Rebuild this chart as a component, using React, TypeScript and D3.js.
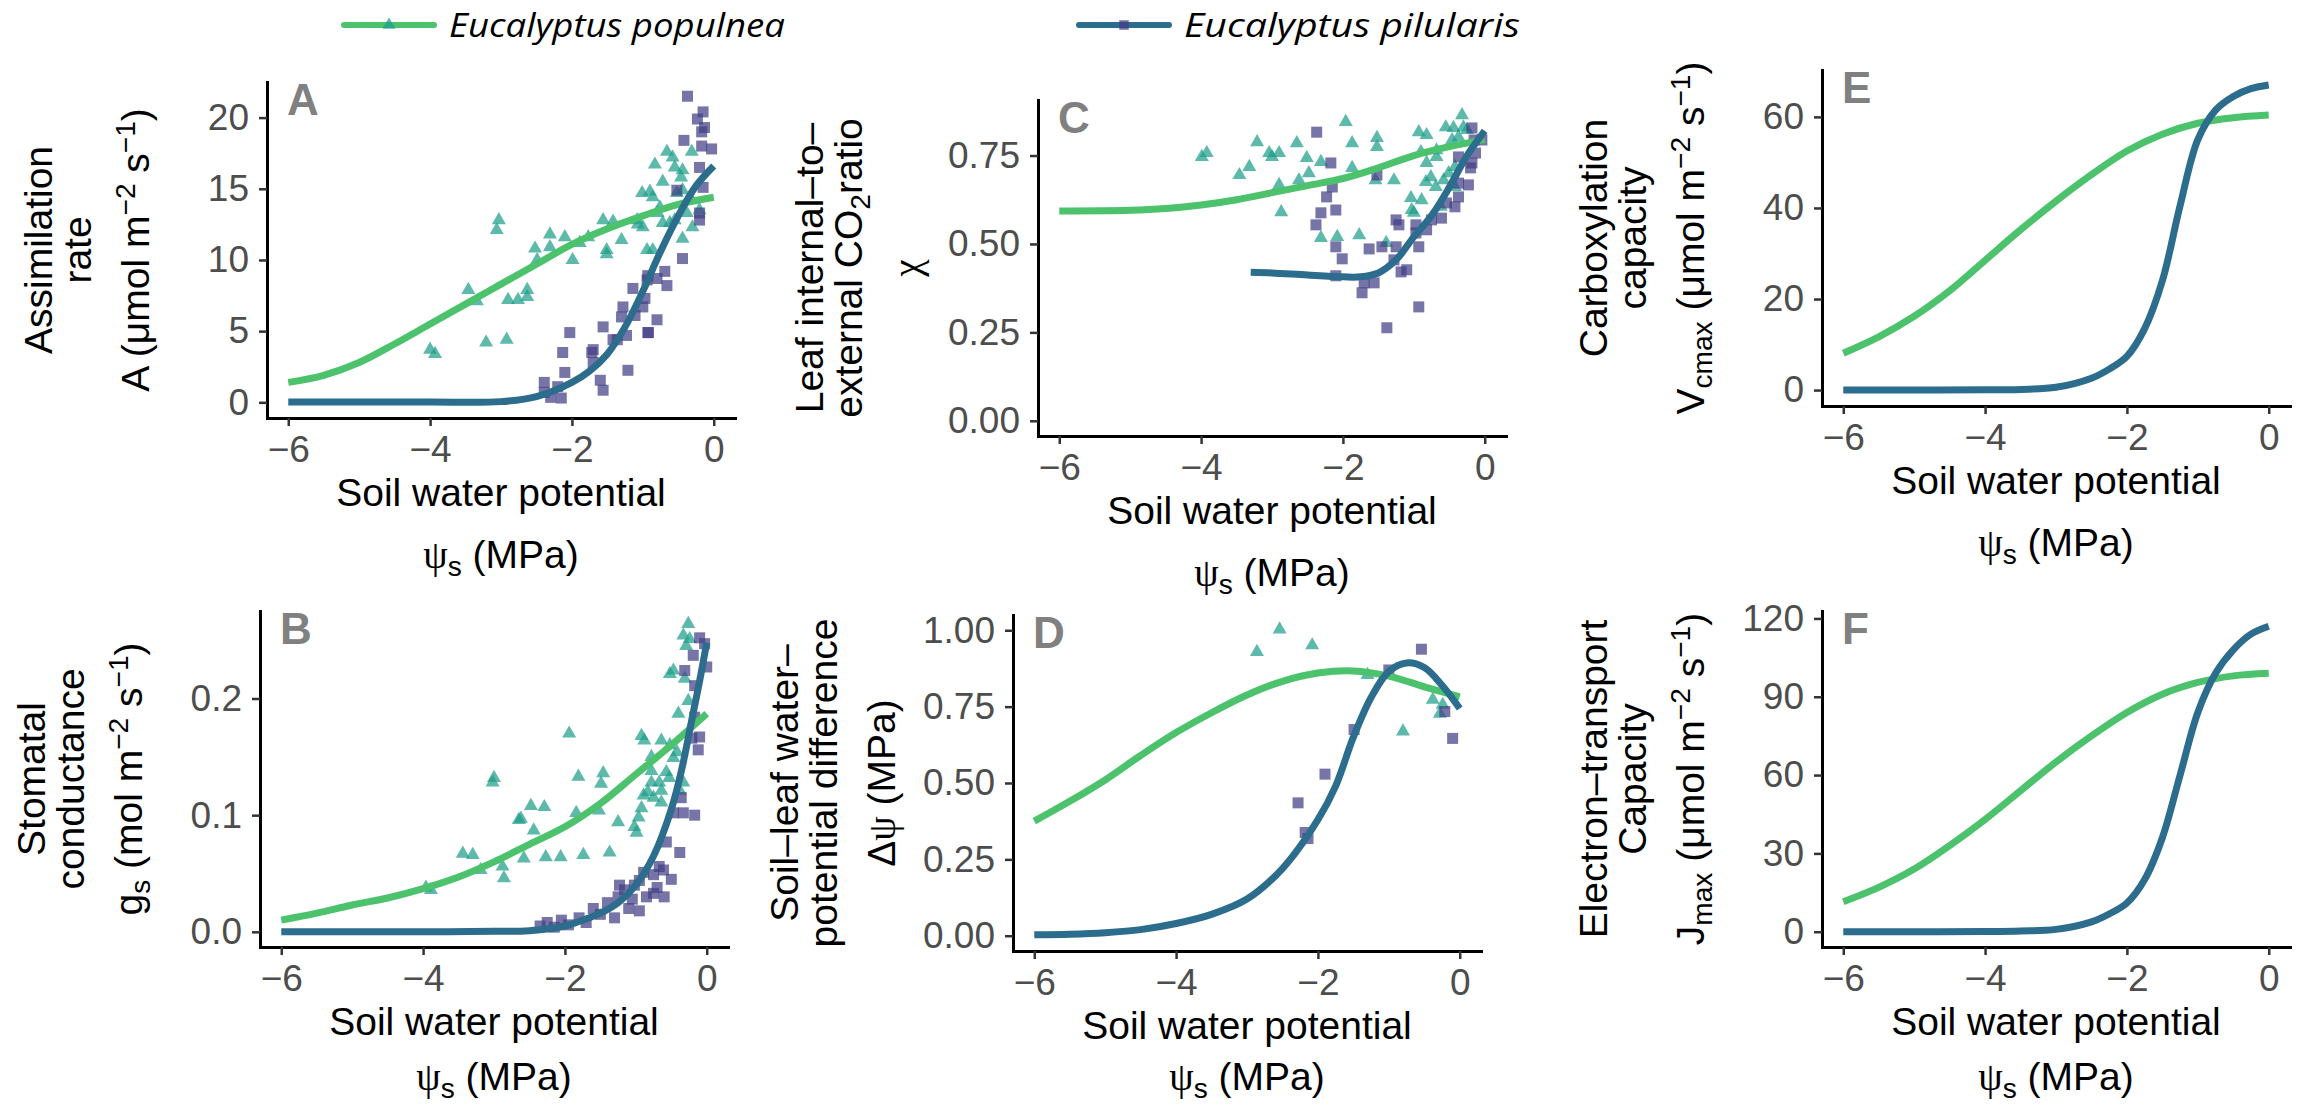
import { useEffect, useRef } from 'react';
import * as d3 from 'd3';

type Pt = [number, number];

const W = 2303;
const H = 1108;

const species = ['Eucalyptus populnea', 'Eucalyptus pilularis'];
const xTicks = [-6, -4, -2, 0];

const aTicks = [0, 5, 10, 15, 20];
const bTicks = [0, 0.1, 0.2];
const cTicks = [0, 0.25, 0.5, 0.75];
const dTicks = [0, 0.25, 0.5, 0.75, 1];
const eTicks = [0, 20, 40, 60];
const fTicks = [0, 30, 60, 90, 120];

// A: assimilation rate
const aPopFit: Pt[] = [[-6, 1.4], [-5.5, 1.9], [-5, 2.8], [-4.5, 4.1], [-4, 5.5], [-3.5, 6.9], [-3, 8.3], [-2.5, 9.7], [-2, 11.1], [-1.5, 12.2], [-1, 13.1], [-0.5, 13.9], [0, 14.4]];
const aPilFit: Pt[] = [[-6, 0.02], [-5, 0.02], [-4, 0.02], [-3, 0.05], [-2.5, 0.4], [-2, 1.4], [-1.75, 2.2], [-1.5, 3.4], [-1.25, 5.3], [-1, 7.8], [-0.75, 10.6], [-0.5, 13.1], [-0.25, 15.2], [0, 16.6]];
const aPopObs: Pt[] = [
  [-3.03, 12.8], [-3.06, 12.1], [-3.46, 7.9], [-3.34, 7.1], [-2.9, 7.2], [-2.76, 7.2], [-3.21, 4.2], [-2.92, 4.4], [-4.0, 3.7], [-3.93, 3.4],
  [-2.63, 7.9], [-2.63, 7.4], [-2.49, 10.0], [-2.52, 10.8], [-2.31, 11.8], [-2.31, 10.9], [-2.1, 11.6], [-1.99, 10.0], [-1.89, 11.2], [-1.77, 11.6],
  [-1.56, 12.8], [-1.42, 12.7], [-1.51, 10.7], [-1.51, 10.4], [-1.3, 11.4], [-1.08, 12.8], [-1.07, 12.5], [-1.0, 12.3], [-0.94, 10.7], [-1.01, 14.7],
  [-0.9, 14.8], [-0.83, 16.7], [-0.72, 15.5], [-0.66, 17.6], [-0.58, 17.2], [-0.55, 16.5], [-0.44, 16.3], [-0.46, 15.8], [-0.31, 17.6], [-0.86, 14.4],
  [-0.76, 13.7], [-0.62, 12.6], [-0.52, 14.7], [-0.44, 14.9], [-0.38, 13.3], [-0.31, 14.2], [-0.3, 12.3], [-0.44, 11.5], [-0.72, 12.6], [-0.79, 13.3],
  [-0.86, 10.7], [-0.55, 12.8], [-0.2, 13.5],
];
const aPilObs: Pt[] = [
  [-0.37, 21.5], [-0.15, 20.4], [-0.23, 19.9], [-0.13, 19.3], [-0.17, 19.0], [-0.42, 18.4], [-0.17, 18.0], [-0.03, 17.8], [-0.2, 16.5], [-0.52, 14.9],
  [-0.15, 15.1], [-0.2, 13.3], [-0.2, 12.8], [-0.44, 10.1], [-0.93, 8.9], [-0.94, 8.6], [-0.69, 9.2], [-0.8, 8.7], [-0.66, 8.2], [-1.14, 8.0],
  [-0.97, 7.3], [-1.0, 6.7], [-1.28, 6.7], [-1.3, 6.0], [-1.11, 6.1], [-0.8, 5.8], [-0.93, 4.9], [-1.23, 4.7], [-1.42, 4.4], [-2.03, 4.9],
  [-1.56, 5.3], [-2.13, 3.5], [-1.72, 3.5], [-1.7, 3.7], [-1.7, 2.8], [-2.1, 2.1], [-2.39, 1.4], [-2.2, 1.1], [-2.39, 0.7], [-2.15, 0.3],
  [-1.6, 1.55], [-1.56, 0.85], [-1.21, 2.25], [-1.36, 4.4], [-0.92, 4.9], [-2.3, 0.35],
];

// B: stomatal conductance
const bPopFit: Pt[] = [[-6, 0.01], [-5.5, 0.016], [-5, 0.023], [-4.5, 0.029], [-4, 0.037], [-3.5, 0.047], [-3, 0.06], [-2.5, 0.075], [-2, 0.09], [-1.5, 0.11], [-1, 0.135], [-0.5, 0.16], [0, 0.187]];
const bPilFit: Pt[] = [[-6, 0], [-5, 0], [-4, 0], [-3, 0.0005], [-2.5, 0.001], [-2, 0.005], [-1.75, 0.01], [-1.5, 0.016], [-1.25, 0.025], [-1, 0.04], [-0.75, 0.065], [-0.5, 0.105], [-0.35, 0.14], [-0.2, 0.185], [-0.1, 0.215], [0, 0.248]];
const bPopObs: Pt[] = [
  [-3.0, 0.132], [-3.02, 0.128], [-3.44, 0.067], [-3.3, 0.066], [-3.19, 0.053], [-2.88, 0.056], [-2.86, 0.046], [-2.65, 0.096], [-3.96, 0.038], [-3.89, 0.036],
  [-0.26, 0.264], [-0.33, 0.254], [-0.24, 0.251], [-0.29, 0.245], [-0.47, 0.224], [-0.52, 0.221], [-0.31, 0.217], [-0.26, 0.198], [-0.4, 0.187], [-1.94, 0.17],
  [-0.92, 0.168], [-0.88, 0.164], [-0.64, 0.164], [-0.52, 0.16], [-0.42, 0.154], [-0.78, 0.15], [-0.47, 0.149], [-0.78, 0.138], [-0.57, 0.137], [-1.81, 0.133],
  [-1.46, 0.136], [-1.49, 0.127], [-0.78, 0.128], [-0.67, 0.128], [-0.53, 0.132], [-0.33, 0.128], [-0.83, 0.12], [-0.64, 0.121], [-0.38, 0.121], [-0.89, 0.117],
  [-0.75, 0.115], [-0.64, 0.111], [-0.92, 0.106], [-2.48, 0.108], [-2.29, 0.107], [-1.84, 0.102], [-1.52, 0.104], [-0.96, 0.098], [-2.62, 0.097], [-1.25, 0.094],
  [-2.44, 0.087], [-1.02, 0.09], [-0.99, 0.085], [-2.58, 0.063], [-2.27, 0.064], [-2.06, 0.064], [-1.74, 0.066], [-1.37, 0.068],
];
const bPilObs: Pt[] = [
  [-0.1, 0.252], [-0.03, 0.247], [-0.19, 0.237], [0.0, 0.227], [-0.31, 0.224], [-0.17, 0.211], [-0.17, 0.184], [-0.1, 0.167], [-0.21, 0.166], [-0.12, 0.156],
  [-0.36, 0.115], [-0.33, 0.102], [-0.17, 0.1], [-0.47, 0.102], [-0.57, 0.077], [-0.38, 0.068], [-0.67, 0.056], [-0.61, 0.053], [-0.89, 0.051], [-0.95, 0.044],
  [-0.75, 0.049], [-1.02, 0.04], [-1.23, 0.04], [-1.16, 0.036], [-0.75, 0.033],
  [-2.35, 0.005], [-2.25, 0.008], [-2.15, 0.004], [-2.05, 0.01], [-1.95, 0.006], [-1.8, 0.012], [-1.7, 0.008], [-1.6, 0.02], [-1.5, 0.015], [-1.4, 0.025],
  [-1.3, 0.012], [-1.25, 0.03], [-1.1, 0.02], [-1.05, 0.028], [-0.95, 0.018], [-0.85, 0.03], [-0.7, 0.038], [-0.6, 0.03], [-0.5, 0.045],
];

// C: leaf internal-to-external CO2 ratio
const cPopFit: Pt[] = [[-6, 0.593], [-5, 0.595], [-4.5, 0.6], [-4, 0.61], [-3.5, 0.625], [-3, 0.645], [-2.5, 0.665], [-2, 0.685], [-1.5, 0.715], [-1, 0.75], [-0.5, 0.775], [0, 0.795]];
const cPilFit: Pt[] = [[-3.3, 0.42], [-3, 0.418], [-2.5, 0.412], [-2, 0.407], [-1.75, 0.407], [-1.5, 0.418], [-1.25, 0.455], [-1, 0.52], [-0.75, 0.58], [-0.5, 0.66], [-0.25, 0.75], [0, 0.82]];
const cPopObs: Pt[] = [
  [-3.99, 0.746], [-3.92, 0.757], [-3.46, 0.695], [-3.32, 0.718], [-3.21, 0.788], [-3.04, 0.757], [-3.0, 0.746], [-2.9, 0.757], [-2.9, 0.667], [-2.87, 0.59],
  [-2.65, 0.785], [-2.62, 0.68], [-2.51, 0.743], [-2.48, 0.70], [-2.31, 0.732], [-2.31, 0.517], [-2.08, 0.52], [-1.96, 0.845], [-1.87, 0.785], [-1.87, 0.715],
  [-1.77, 0.525], [-1.54, 0.68], [-1.52, 0.80], [-1.52, 0.774], [-1.39, 0.503], [-1.28, 0.68], [-1.04, 0.63], [-1.03, 0.596], [-1.0, 0.588], [-0.93, 0.816],
  [-0.9, 0.76], [-0.82, 0.808], [-0.89, 0.624], [-0.83, 0.675], [-0.82, 0.729], [-0.76, 0.689], [-0.69, 0.661], [-0.68, 0.746], [-0.68, 0.765], [-0.62, 0.605],
  [-0.58, 0.68], [-0.55, 0.83], [-0.51, 0.70], [-0.44, 0.828], [-0.42, 0.661], [-0.37, 0.802], [-0.32, 0.864], [-0.3, 0.83], [-0.25, 0.822], [-0.46, 0.794],
  [-0.42, 0.718],
];
const cPilObs: Pt[] = [
  [-2.37, 0.816], [-2.17, 0.729], [-2.15, 0.661], [-2.23, 0.633], [-2.31, 0.588], [-2.1, 0.596], [-2.38, 0.554], [-2.1, 0.492], [-2.01, 0.458], [-2.1, 0.41],
  [-1.7, 0.39], [-1.73, 0.362], [-1.56, 0.39], [-1.63, 0.486], [-1.52, 0.695], [-1.45, 0.492], [-1.25, 0.568], [-1.21, 0.554], [-1.25, 0.492], [-1.28, 0.455],
  [-1.18, 0.421], [-1.1, 0.427], [-1.38, 0.263], [-0.93, 0.322], [-0.97, 0.554], [-0.97, 0.531], [-0.93, 0.492], [-0.82, 0.54], [-0.75, 0.568], [-0.61, 0.573],
  [-0.54, 0.616], [-0.42, 0.605], [-0.37, 0.633], [-0.37, 0.672], [-0.23, 0.667], [-0.2, 0.715], [-0.18, 0.729], [-0.13, 0.757], [-0.37, 0.746], [-0.18, 0.828],
  [-0.04, 0.794], [-0.15, 0.794],
];

// D: soil-leaf water potential difference
const dPopFit: Pt[] = [[-6, 0.375], [-5.5, 0.44], [-5, 0.51], [-4.5, 0.59], [-4, 0.665], [-3.5, 0.73], [-3, 0.788], [-2.5, 0.833], [-2, 0.86], [-1.5, 0.867], [-1, 0.85], [-0.5, 0.815], [0, 0.782]];
const dPilFit: Pt[] = [[-6, 0.003], [-5.5, 0.005], [-5, 0.01], [-4.5, 0.02], [-4, 0.04], [-3.5, 0.07], [-3, 0.12], [-2.5, 0.22], [-2, 0.38], [-1.75, 0.49], [-1.5, 0.65], [-1.25, 0.78], [-1, 0.865], [-0.75, 0.893], [-0.5, 0.878], [-0.25, 0.82], [0, 0.744]];
const dPopObs: Pt[] = [[-2.86, 0.929], [-2.54, 1.003], [-2.08, 0.951], [-1.3, 0.854], [-0.38, 0.773], [-0.24, 0.756], [-0.28, 0.727], [-0.8, 0.669]];
const dPilObs: Pt[] = [[-0.54, 0.938], [-1.0, 0.87], [-0.21, 0.734], [-0.1, 0.646], [-1.49, 0.675], [-1.9, 0.529], [-2.28, 0.435], [-2.18, 0.338], [-2.14, 0.318]];

// E: carboxylation capacity
const ePopFit: Pt[] = [[-6, 8.1], [-5.5, 11.7], [-5, 16.2], [-4.5, 21.8], [-4, 28.5], [-3.5, 35.2], [-3, 41.5], [-2.5, 47.3], [-2, 52.5], [-1.5, 56.2], [-1, 58.6], [-0.5, 59.8], [0, 60.4]];
const ePilFit: Pt[] = [[-6, 0], [-5, 0], [-4, 0.05], [-3.5, 0.15], [-3, 0.6], [-2.5, 2.6], [-2.25, 4.6], [-2, 7.4], [-1.75, 13.5], [-1.5, 24], [-1.25, 40.5], [-1, 55], [-0.75, 61.5], [-0.5, 64.5], [-0.25, 66.2], [0, 67.0]];

// F: electron-transport capacity
const fPopFit: Pt[] = [[-6, 11.5], [-5.5, 17], [-5, 24], [-4.5, 33], [-4, 43], [-3.5, 54], [-3, 65], [-2.5, 75], [-2, 84], [-1.5, 91], [-1, 95.5], [-0.5, 98], [0, 99]];
const fPilFit: Pt[] = [[-6, 0], [-5, 0], [-4, 0.1], [-3.5, 0.3], [-3, 0.9], [-2.5, 3.8], [-2.25, 6.8], [-2, 11], [-1.75, 20], [-1.5, 36], [-1.25, 60], [-1, 84], [-0.75, 99], [-0.5, 108], [-0.25, 114], [0, 117]];

type Seg = { t: string; sup?: boolean; sub?: boolean; serif?: boolean };

const SANS = '"Liberation Sans", Arial, Helvetica, sans-serif';
const SERIF = '"Liberation Serif", "DejaVu Serif", serif';
const GREEN = '#4CC26C';
const BLUE = '#2C6D8D';
const TRI = '#1F9E89';
const SQ = '#433E85';

const unitsMicro: Seg[] = [{ t: ' (μmol m' }, { t: '−2', sup: true }, { t: ' s' }, { t: '−1', sup: true }, { t: ')' }];

const panels = [
  {
    tag: 'A', left: 267, bottom: 418, yDomain: [-1.1, 22.5], ticks: aTicks, fmt: 'd',
    fits: [aPopFit, aPilFit], obs: [aPopObs, aPilObs],
    title: [[{ t: 'Assimilation' }], [{ t: 'rate' }], [{ t: 'A' }, ...unitsMicro]] as Seg[][],
  },
  {
    tag: 'B', left: 260, bottom: 947, yDomain: [-0.013, 0.275], ticks: bTicks, fmt: '.1f',
    fits: [bPopFit, bPilFit], obs: [bPopObs, bPilObs],
    title: [[{ t: 'Stomatal' }], [{ t: 'conductance' }], [{ t: 'g' }, { t: 's', sub: true }, { t: ' (mol m' }, { t: '−2', sup: true }, { t: ' s' }, { t: '−1', sup: true }, { t: ')' }]] as Seg[][],
  },
  {
    tag: 'C', left: 1038, bottom: 436, yDomain: [-0.043, 0.907], ticks: cTicks, fmt: '.2f',
    fits: [cPopFit, cPilFit], obs: [cPopObs, cPilObs],
    title: [[{ t: 'Leaf internal–to–' }], [{ t: 'external CO' }, { t: '2', sub: true }, { t: 'ratio' }], [{ t: 'χ', serif: true }]] as Seg[][],
  },
  {
    tag: 'D', left: 1013, bottom: 951, yDomain: [-0.05, 1.05], ticks: dTicks, fmt: '.2f',
    fits: [dPopFit, dPilFit], obs: [dPopObs, dPilObs],
    title: [[{ t: 'Soil–leaf water–' }], [{ t: 'potential difference' }], [{ t: 'Δ' }, { t: 'ψ', serif: true }, { t: ' (MPa)' }]] as Seg[][],
  },
  {
    tag: 'E', left: 1822, bottom: 406, yDomain: [-3.5, 70.3], ticks: eTicks, fmt: 'd',
    fits: [ePopFit, ePilFit], obs: [[], []] as Pt[][],
    title: [[{ t: 'Carboxylation' }], [{ t: 'capacity' }], [{ t: 'V' }, { t: 'cmax', sub: true }, ...unitsMicro]] as Seg[][],
  },
  {
    tag: 'F', left: 1822, bottom: 947, yDomain: [-5.85, 122.85], ticks: fTicks, fmt: 'd',
    fits: [fPopFit, fPilFit], obs: [[], []] as Pt[][],
    title: [[{ t: 'Electron–transport' }], [{ t: 'Capacity' }], [{ t: 'J' }, { t: 'max', sub: true }, ...unitsMicro]] as Seg[][],
  },
];

const PW = 468;
const PH = 336;

function writeSegs(text: d3.Selection<SVGTextElement, unknown, null, undefined>, segs: Seg[], size: number) {
  let shift = 0;
  segs.forEach((s) => {
    const target = s.sup ? -14 : s.sub ? 8 : 0;
    text.append('tspan')
      .attr('dy', target - shift)
      .attr('font-size', s.sup || s.sub ? size * 0.72 : size)
      .attr('font-family', s.serif ? SERIF : SANS)
      .text(s.t);
    shift = target;
  });
}

export default function App() {
  const ref = useRef<SVGSVGElement>(null);

  useEffect(() => {
    const svg = d3.select(ref.current);
    svg.selectAll('*').remove();

    svg.append('rect').attr('width', W).attr('height', H).attr('fill', '#fff');

    // Legend
    const legend = svg.append('g');
    const legX = [344, 1079];
    species.forEach((name, i) => {
      const g = legend.append('g').attr('transform', `translate(${legX[i]},25)`);
      g.append('line').attr('x1', 0).attr('x2', 90).attr('stroke', i === 0 ? GREEN : BLUE)
        .attr('stroke-width', 6).attr('stroke-linecap', 'round');
      g.append('path')
        .attr('d', d3.symbol(i === 0 ? d3.symbolTriangle : d3.symbolSquare, i === 0 ? 75 : 90)())
        .attr('transform', 'translate(45,0)')
        .attr('fill', i === 0 ? TRI : SQ).attr('fill-opacity', 0.75);
      g.append('text').attr('x', 105).attr('y', 12)
        .attr('font-family', '"Open Sans", "Noto Sans", sans-serif').attr('font-style', 'italic')
        .attr('font-size', 33).attr('textLength', 336).attr('lengthAdjust', 'spacingAndGlyphs')
        .attr('fill', '#000').text(name);
    });

    panels.forEach((p) => {
      const x = d3.scaleLinear().domain([-6.3, 0.3]).range([p.left, p.left + PW]);
      const y = d3.scaleLinear().domain(p.yDomain).range([p.bottom, p.bottom - PH]);
      const g = svg.append('g');

      // Points
      p.obs.forEach((pts, si) => {
        const sym = d3.symbol(si === 0 ? d3.symbolTriangle : d3.symbolSquare, si === 0 ? 85 : 121);
        g.append('g').selectAll('path').data(pts).join('path')
          .attr('d', sym())
          .attr('transform', (d) => `translate(${x(d[0])},${y(d[1])})`)
          .attr('fill', si === 0 ? TRI : SQ)
          .attr('fill-opacity', 0.72);
      });

      // Fitted curves
      const line = d3.line<Pt>().x((d) => x(d[0])).y((d) => y(d[1])).curve(d3.curveCatmullRom.alpha(0.5));
      p.fits.forEach((fit, si) => {
        g.append('path').datum(fit).attr('d', line)
          .attr('fill', 'none').attr('stroke', si === 0 ? GREEN : BLUE)
          .attr('stroke-width', 7).attr('stroke-linecap', 'butt');
      });

      // Axes
      const fmt = d3.format(p.fmt);
      const yAxis = g.append('g').attr('transform', `translate(${p.left},0)`)
        .call(d3.axisLeft(y).tickValues(p.ticks).tickFormat((d) => fmt(d as number)).tickSize(8).tickSizeOuter(0).tickPadding(10));
      const xAxis = g.append('g').attr('transform', `translate(0,${p.bottom})`)
        .call(d3.axisBottom(x).tickValues(xTicks).tickFormat((d) => d3.format('d')(d as number)).tickSize(8).tickSizeOuter(0).tickPadding(10));
      [yAxis, xAxis].forEach((ax) => {
        ax.select('.domain').attr('stroke', '#000').attr('stroke-width', 3).attr('stroke-linecap', 'square');
        ax.selectAll('.tick line').attr('stroke', '#333').attr('stroke-width', 2.5);
        ax.selectAll('.tick text').attr('font-family', SANS).attr('font-size', 37).attr('fill', '#4D4D4D');
      });

      // Panel tag
      g.append('text').attr('x', p.left + 20).attr('y', p.bottom - PH + 33)
        .attr('font-family', SANS).attr('font-weight', 'bold').attr('font-size', 44)
        .attr('fill', '#808080').text(p.tag);

      // X title
      const cx = p.left + PW / 2;
      g.append('text').attr('x', cx).attr('y', p.bottom + 88).attr('text-anchor', 'middle')
        .attr('font-family', SANS).attr('font-size', 39).attr('fill', '#000').text('Soil water potential');
      const xt2 = g.append('text').attr('x', cx).attr('y', Math.min(p.bottom + 150, H - 18)).attr('text-anchor', 'middle')
        .attr('font-family', SANS).attr('font-size', 39).attr('fill', '#000');
      writeSegs(xt2, [{ t: 'ψ', serif: true }, { t: 's', sub: true }, { t: ' (MPa)' }], 39);

      // Y title
      const cy = p.bottom - PH / 2;
      const offs = [-215, -176, -118];
      p.title.forEach((segs, li) => {
        const t = g.append('text').attr('text-anchor', 'middle')
          .attr('transform', `translate(${p.left + offs[li]},${cy}) rotate(-90)`)
          .attr('font-family', SANS).attr('font-size', 39).attr('fill', '#000');
        writeSegs(t, segs, 39);
      });
    });
  }, []);

  return <svg ref={ref} width={W} height={H} style={{ position: 'absolute', left: 0, top: 0 }} />;
}
